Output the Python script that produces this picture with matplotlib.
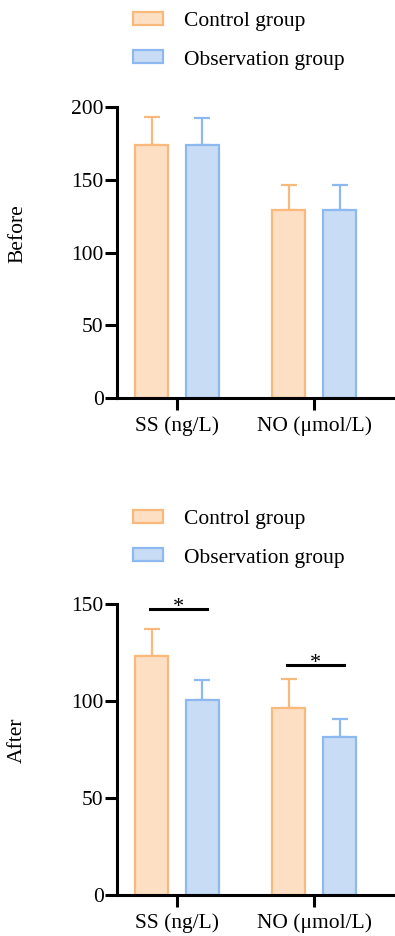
import matplotlib.pyplot as plt
from matplotlib.patches import Patch
import numpy as np

plt.rcParams['font.family'] = ['Liberation Serif', 'DejaVu Serif']
plt.rcParams['font.size'] = 15.5

categories = ['SS (ng/L)', 'NO (\u03bcmol/L)']
groups = ['Control group', 'Observation group']

before_control = [174.1, 129.2]
before_control_sd = [19.2, 17.4]
before_obs = [173.7, 129.4]
before_obs_sd = [18.7, 17.2]

after_control = [123.5, 96.6]
after_control_sd = [13.8, 15.0]
after_obs = [100.5, 81.5]
after_obs_sd = [10.4, 9.2]

edge_colors = ['#F9B87C', '#8DB9F0']
fill_colors = ['#FDDFC3', '#C8DCF6']

W, H = 395, 936
fig = plt.figure(figsize=(W / 100, H / 100), dpi=100)


def panel(bottom_px, top_px, ymax, step, means, sds, ylabel, label_y, legend_top):
    ax = fig.add_axes([117 / W, 1 - bottom_px / H, 1 - 117 / W, (bottom_px - top_px) / H])
    x = np.arange(len(categories))
    off, bw = 0.186, 0.241
    for i, (m, s) in enumerate(zip(means, sds)):
        pos = x + (-off if i == 0 else off)
        ax.bar(pos, m, width=bw, color=fill_colors[i], edgecolor=edge_colors[i],
               linewidth=1.6, zorder=2)
        ax.errorbar(pos, m, yerr=[np.zeros(len(s)), s], fmt='none',
                    ecolor=edge_colors[i], elinewidth=1.6, capsize=5.5,
                    capthick=1.6, zorder=1)
    ax.set_xlim(-0.438, 1.591)
    ax.set_ylim(0, ymax)
    ax.set_yticks(np.arange(0, ymax + 1, step))
    ax.set_xticks(x)
    ax.set_xticklabels(categories)
    for sp in ['top', 'right']:
        ax.spines[sp].set_visible(False)
    for sp in ['left', 'bottom']:
        ax.spines[sp].set_linewidth(2.2)
    ax.tick_params(axis='both', width=2.2, length=8.5, labelsize=15.5)
    ax.tick_params(axis='y', pad=1)
    ax.tick_params(axis='x', pad=5)
    ax.set_ylabel(ylabel, fontsize=15.5)
    ax.yaxis.set_label_coords(-(117 - 27) / 278, label_y)
    handles = [Patch(facecolor=fill_colors[i], edgecolor=edge_colors[i], linewidth=1.6)
               for i in range(2)]
    fig.legend(handles, groups, loc='upper left',
               bbox_to_anchor=(133 / W, 1 - legend_top / H), frameon=False,
               borderpad=0, borderaxespad=0,
               handlelength=1.4, handleheight=0.55, handletextpad=0.95,
               labelspacing=0.9, fontsize=15.5)
    return ax


ax1 = panel(398, 107, 200, 50, [before_control, before_obs],
            [before_control_sd, before_obs_sd], 'Before', 0.564, 12)
ax2 = panel(895, 604.3, 150, 50, [after_control, after_obs],
            [after_control_sd, after_obs_sd], 'After', 0.533, 510)

# significance markers
sig = [(-0.197, 0.219, 147.7), (0.803, 1.219, 118.7)]
for x0, x1, y in sig:
    ax2.plot([x0, x1], [y, y], color='black', lw=2.2, clip_on=False)
    ax2.text((x0 + x1) / 2, y - 1.5, '*', ha='center', va='baseline', fontsize=16,
             clip_on=False)

fig.savefig('out.png', dpi=100)
